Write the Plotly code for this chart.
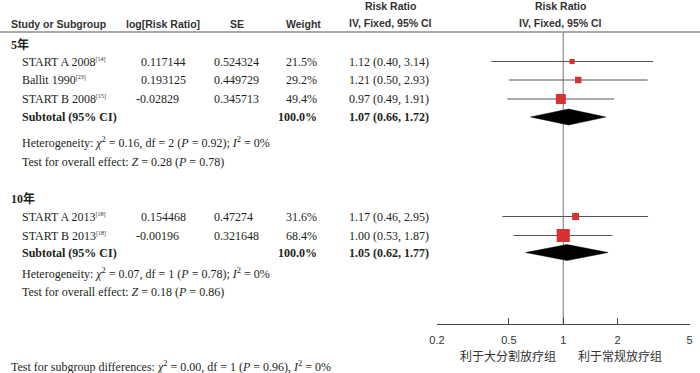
import plotly.graph_objects as go
import math

# ---------------- data ----------------
groups = ["5年", "10年"]
studies = [
    ["START A 2008", "Ballit 1990", "START B 2008"],
    ["START A 2013", "START B 2013"],
]
refs = [["14", "23", "15"], ["18", "18"]]
log_rr = [["0.117144", "0.193125", "-0.02829"], ["0.154468", "-0.00196"]]
se = [["0.524324", "0.449729", "0.345713"], ["0.47274", "0.321648"]]
weight = [[21.5, 29.2, 49.4], [31.6, 68.4]]
rr = [[1.12, 1.21, 0.97], [1.17, 1.00]]
ci_lo = [[0.40, 0.50, 0.49], [0.46, 0.53]]
ci_hi = [[3.14, 2.93, 1.91], [2.95, 1.87]]
sub_rr = [1.07, 1.05]
sub_lo = [0.66, 0.62]
sub_hi = [1.72, 1.77]
heterogeneity = [
    "Heterogeneity: <i>χ</i><sup>2</sup> = 0.16, df = 2 (<i>P</i> = 0.92); <i>I</i><sup>2</sup> = 0%",
    "Heterogeneity: <i>χ</i><sup>2</sup> = 0.07, df = 1 (<i>P</i> = 0.78); <i>I</i><sup>2</sup> = 0%",
]
overall = [
    "Test for overall effect: <i>Z</i> = 0.28 (<i>P</i> = 0.78)",
    "Test for overall effect: <i>Z</i> = 0.18 (<i>P</i> = 0.86)",
]
subgroup_diff = "Test for subgroup differences: <i>χ</i><sup>2</sup> = 0.00, df = 1 (<i>P</i> = 0.96), <i>I</i><sup>2</sup> = 0%"
tick_vals = [0.2, 0.5, 1, 2, 5]
tick_text = ["0.2", "0.5", "1", "2", "5"]
favours = ["利于大分割放疗组", "利于常规放疗组"]

# ---------------- layout constants ----------------
W, H = 700, 373
SERIF = "Liberation Serif, Noto Sans CJK SC, serif"
SANS = "Liberation Sans, Arial, sans-serif"
CJK = "Noto Sans CJK SC, sans-serif"
TXT = "#231f20"
RED = "#d93030"

group_y = [44, 198]
row_y = [[61.5, 80, 99], [216.5, 235.5]]
sub_y = [117, 252.5]
het_y = [142.5, 273]
ov_y = [161.5, 292]
axis_y = 324
header_line_y = 32

fig = go.Figure()
ann = []

def text(x, y, s, anchor="left", font=SERIF, size=12, color=TXT):
    ann.append(dict(x=x / W, y=y, xref="paper", yref="y", text=s, showarrow=False,
                    xanchor=anchor, yanchor="middle", align=anchor, borderpad=0,
                    font=dict(family=font, size=size, color=color)))

def sup(s):
    return f"<sup><span style='font-size:6px'>{s}</span></sup>"

# headers
hsize = 10.5
hcol = "#333333"
text(10, 24, "<b>Study or Subgroup</b>", "left", SANS, hsize, hcol)
text(163, 24, "<b>log[Risk Ratio]</b>", "center", SANS, hsize, hcol)
text(237, 24, "<b>SE</b>", "center", SANS, hsize, hcol)
text(303, 24, "<b>Weight</b>", "center", SANS, hsize, hcol)
text(390, 6, "<b>Risk Ratio</b>", "center", SANS, hsize, hcol)
text(390, 23, "<b>IV, Fixed, 95% CI</b>", "center", SANS, hsize, hcol)
text(560, 6, "<b>Risk Ratio</b>", "center", SANS, hsize, hcol)
text(560, 23, "<b>IV, Fixed, 95% CI</b>", "center", SANS, hsize, hcol)

# vertical null line (drawn first, behind marks)
fig.add_trace(go.Scatter(x=[1, 1], y=[header_line_y, axis_y], mode="lines",
                         line=dict(color="#8a8a8a", width=1.2),
                         hoverinfo="skip", showlegend=False))

for g in range(len(groups)):
    text(10, group_y[g], "<b>" + groups[g] + "</b>", "left", SERIF, 12)
    for i, name in enumerate(studies[g]):
        y = row_y[g][i]
        text(21, y, f"{name}{sup('[' + refs[g][i] + ']')}")
        lx = 140 - (5 if log_rr[g][i].startswith("-") else 0)
        text(lx, y, log_rr[g][i])
        text(213, y, se[g][i])
        text(318, y, f"{weight[g][i]:.1f}%", "right")
        text(348, y, f"{rr[g][i]:.2f} ({ci_lo[g][i]:.2f}, {ci_hi[g][i]:.2f})")
        fig.add_trace(go.Scatter(x=[ci_lo[g][i], ci_hi[g][i]], y=[y, y], mode="lines",
                                 line=dict(color="#555555", width=1),
                                 hoverinfo="skip", showlegend=False))
        fig.add_trace(go.Scatter(x=[rr[g][i]], y=[y], mode="markers",
                                 marker=dict(symbol="square", color=RED,
                                             size=1.5 + 0.17 * weight[g][i],
                                             line=dict(width=0)),
                                 showlegend=False))
    y = sub_y[g]
    text(21, y, "<b>Subtotal (95% CI)</b>")
    text(318, y, "<b>100.0%</b>", "right")
    text(348, y, f"<b>{sub_rr[g]:.2f} ({sub_lo[g]:.2f}, {sub_hi[g]:.2f})</b>")
    fig.add_trace(go.Scatter(x=[sub_lo[g], sub_rr[g], sub_hi[g], sub_rr[g], sub_lo[g]],
                             y=[y, y - 8, y, y + 8, y], mode="lines", fill="toself",
                             fillcolor="#000000", line=dict(color="#000000", width=0.5),
                             hoverinfo="skip", showlegend=False))
    text(21, het_y[g], heterogeneity[g])
    text(21, ov_y[g], overall[g])

text(10, 366, subgroup_diff)

# favours labels
ann.append(dict(x=math.log10(0.5) - 0.003, y=355, xref="x", yref="y", text=favours[0],
                showarrow=False, xanchor="center", yanchor="middle",
                font=dict(family=CJK, size=12, color="#333333")))
ann.append(dict(x=math.log10(2) + 0.012, y=355, xref="x", yref="y", text=favours[1],
                showarrow=False, xanchor="center", yanchor="middle",
                font=dict(family=CJK, size=12, color="#333333")))

shapes = [dict(type="line", xref="paper", yref="y", x0=0, x1=1,
               y0=header_line_y, y1=header_line_y, line=dict(color="#8c8c8c", width=1.5))]

x0p, x1p = 437, 689.5
fig.update_layout(
    width=W, height=H,
    margin=dict(l=0, r=0, t=0, b=0, pad=0, autoexpand=False),
    paper_bgcolor="white", plot_bgcolor="rgba(0,0,0,0)",
    showlegend=False, annotations=ann, shapes=shapes,
    xaxis=dict(type="log", range=[math.log10(0.2), math.log10(5)],
               domain=[x0p / W, x1p / W], anchor="free",
               position=(H - axis_y) / H, automargin=False,
               tickvals=tick_vals, ticktext=tick_text,
               ticks="inside", ticklen=6, tickwidth=1, tickcolor="#444444",
               showline=True, linecolor="#444444", linewidth=1,
               showgrid=False, zeroline=False, ticklabelstandoff=6,
               tickfont=dict(family=SANS, size=11, color="#333333")),
    yaxis=dict(range=[H, 0], domain=[0, 1], visible=False, automargin=False,
               showgrid=False, zeroline=False),
)

fig.write_html("out.html", config={"displayModeBar": False},
               post_script="document.body.style.margin='0';")
